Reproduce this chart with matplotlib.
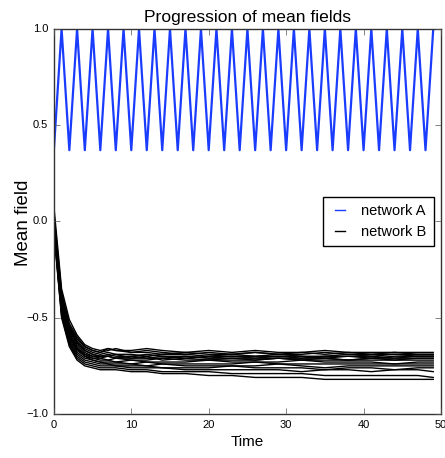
import matplotlib
matplotlib.use("Agg")
import matplotlib.pyplot as plt
import numpy as np

plt.style.use('classic')

# network A: mean field of the oscillating network, one value per time step
t_a = np.arange(50)
field_a = [0.37, 1.0, 0.37, 1.0, 0.37, 1.0, 0.37, 1.0, 0.37, 1.0,
           0.37, 1.0, 0.37, 1.0, 0.37, 1.0, 0.37, 1.0, 0.37, 1.0,
           0.37, 1.0, 0.37, 1.0, 0.37, 1.0, 0.37, 1.0, 0.37, 1.0,
           0.37, 1.0, 0.37, 1.0, 0.37, 1.0, 0.37, 1.0, 0.37, 1.0,
           0.37, 1.0, 0.37, 1.0, 0.37, 1.0, 0.37, 1.0, 0.37, 1.0]

# network B: several runs that relax to a fixed point
t_b = [0, 1, 2, 3, 4, 5, 6, 7, 8, 10, 12, 14, 17, 20, 23, 26, 29, 32, 35, 38, 41, 44, 47, 49]
field_b = [
    [0.08, -0.35, -0.51, -0.59, -0.64, -0.66, -0.67, -0.66, -0.67, -0.67, -0.66, -0.67, -0.68, -0.67, -0.68, -0.67, -0.68, -0.68, -0.67, -0.68, -0.68, -0.68, -0.68, -0.68],
    [0.03, -0.38, -0.54, -0.61, -0.65, -0.67, -0.68, -0.67, -0.66, -0.68, -0.68, -0.69, -0.68, -0.69, -0.69, -0.68, -0.69, -0.69, -0.68, -0.69, -0.69, -0.69, -0.69, -0.69],
    [0.01, -0.40, -0.55, -0.62, -0.66, -0.68, -0.69, -0.68, -0.69, -0.69, -0.70, -0.69, -0.69, -0.70, -0.69, -0.70, -0.69, -0.70, -0.70, -0.69, -0.70, -0.69, -0.70, -0.70],
    [0.00, -0.41, -0.56, -0.63, -0.67, -0.69, -0.70, -0.69, -0.70, -0.70, -0.69, -0.70, -0.71, -0.70, -0.70, -0.71, -0.70, -0.70, -0.71, -0.70, -0.71, -0.70, -0.70, -0.70],
    [0.00, -0.42, -0.57, -0.64, -0.68, -0.70, -0.70, -0.70, -0.71, -0.70, -0.71, -0.71, -0.70, -0.71, -0.71, -0.71, -0.71, -0.71, -0.71, -0.72, -0.71, -0.71, -0.71, -0.71],
    [-0.01, -0.43, -0.58, -0.65, -0.69, -0.71, -0.71, -0.72, -0.71, -0.72, -0.72, -0.71, -0.72, -0.72, -0.72, -0.72, -0.71, -0.72, -0.72, -0.72, -0.72, -0.72, -0.72, -0.72],
    [-0.02, -0.44, -0.59, -0.66, -0.70, -0.71, -0.72, -0.72, -0.73, -0.72, -0.73, -0.73, -0.73, -0.72, -0.73, -0.73, -0.73, -0.72, -0.73, -0.73, -0.73, -0.74, -0.73, -0.73],
    [-0.02, -0.45, -0.60, -0.67, -0.70, -0.72, -0.73, -0.73, -0.73, -0.74, -0.73, -0.74, -0.74, -0.74, -0.74, -0.73, -0.74, -0.74, -0.74, -0.74, -0.74, -0.74, -0.74, -0.74],
    [-0.03, -0.46, -0.61, -0.68, -0.71, -0.72, -0.73, -0.74, -0.74, -0.74, -0.75, -0.74, -0.75, -0.75, -0.75, -0.75, -0.74, -0.75, -0.76, -0.75, -0.75, -0.75, -0.75, -0.75],
    [-0.03, -0.47, -0.62, -0.69, -0.72, -0.73, -0.74, -0.74, -0.75, -0.75, -0.75, -0.76, -0.76, -0.76, -0.75, -0.76, -0.76, -0.76, -0.77, -0.76, -0.76, -0.77, -0.76, -0.76],
    [-0.04, -0.48, -0.63, -0.70, -0.73, -0.74, -0.75, -0.75, -0.75, -0.76, -0.76, -0.76, -0.77, -0.77, -0.77, -0.77, -0.77, -0.78, -0.77, -0.77, -0.78, -0.77, -0.77, -0.78],
    [-0.05, -0.49, -0.64, -0.71, -0.74, -0.75, -0.76, -0.76, -0.76, -0.77, -0.77, -0.78, -0.78, -0.78, -0.79, -0.79, -0.79, -0.79, -0.80, -0.80, -0.80, -0.80, -0.80, -0.81],
    [-0.05, -0.50, -0.65, -0.72, -0.75, -0.76, -0.77, -0.77, -0.77, -0.78, -0.78, -0.79, -0.79, -0.80, -0.80, -0.81, -0.81, -0.81, -0.82, -0.82, -0.82, -0.82, -0.82, -0.82],
    [0.05, -0.37, -0.53, -0.60, -0.65, -0.67, -0.68, -0.66, -0.67, -0.68, -0.67, -0.68, -0.69, -0.68, -0.69, -0.68, -0.69, -0.68, -0.69, -0.68, -0.69, -0.68, -0.69, -0.69],
    [0.02, -0.40, -0.55, -0.63, -0.67, -0.69, -0.70, -0.70, -0.69, -0.71, -0.70, -0.72, -0.71, -0.72, -0.71, -0.72, -0.71, -0.72, -0.71, -0.72, -0.71, -0.72, -0.71, -0.71],
    [-0.01, -0.43, -0.59, -0.66, -0.69, -0.70, -0.71, -0.70, -0.71, -0.71, -0.71, -0.70, -0.70, -0.71, -0.70, -0.70, -0.70, -0.71, -0.70, -0.70, -0.70, -0.71, -0.70, -0.70],
]

sans = ['Liberation Sans', 'DejaVu Sans']

fig = plt.figure(figsize=(4.45, 4.58), dpi=100, facecolor='white')
ax = fig.add_axes([0.121, 0.096, 0.870, 0.841])

ax.plot(t_a, field_a, color='#1a3cff', linewidth=1.6, label='network A')
for k, row in enumerate(field_b):
    ax.plot(t_b, row, color='black', linewidth=1,
            label='network B' if k == 0 else None)

ax.set_xlim(0, 50)
ax.set_ylim(-1.0, 1.0)
ax.set_xticks([0, 10, 20, 30, 40, 50])
ax.set_yticks([-1.0, -0.5, 0.0, 0.5, 1.0])
for lab in ax.get_xticklabels() + ax.get_yticklabels():
    lab.set_family(sans)
    lab.set_fontsize(8)
ax.tick_params(which='major', color='#555555')
for sp in ax.spines.values():
    sp.set_color('#333333')

ax.set_title('Progression of mean fields', family=sans, fontsize=12.6, pad=5)
ax.set_xlabel('Time', family=sans, fontsize=11, labelpad=4)
ax.set_ylabel('Mean field', family=sans, fontsize=13.5)
ax.yaxis.set_label_coords(-0.057, 0.496)

leg = ax.legend(loc='center right', prop={'family': sans, 'size': 10.5},
                handlelength=1.3, borderaxespad=0.5, borderpad=0.5)
for h in leg.get_lines():
    h.set_linewidth(1)

fig.savefig('out.png', dpi=100, facecolor='white')
